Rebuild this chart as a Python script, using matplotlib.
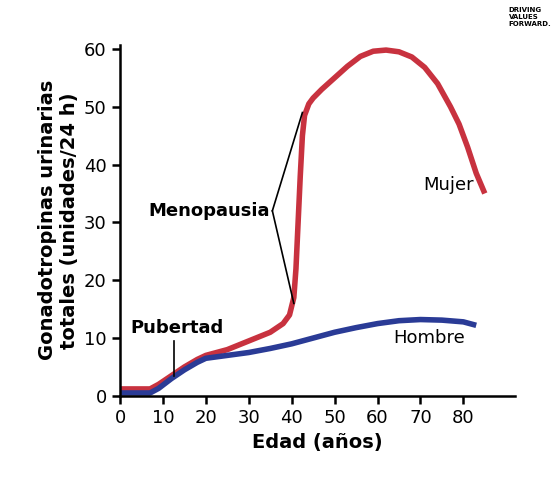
import matplotlib.pyplot as plt
import numpy as np

edad_mujer = [0, 7, 9, 12, 15, 18, 20, 25, 30, 35, 38, 39.5, 40.5, 41, 41.5, 42, 42.5, 43, 44, 45, 47, 50, 53, 56, 59, 62, 65, 68, 71, 74, 77, 79, 81, 83, 85]
mujer = [1.2, 1.2, 2, 3.5, 5, 6.3, 7, 8, 9.5, 11, 12.5, 14, 17, 22, 30, 38, 45, 48.5, 50.5, 51.5, 53, 55, 57, 58.7, 59.6, 59.8, 59.5, 58.6, 56.8, 54, 50, 47, 43, 38.5, 35]
edad_hombre = [0, 7, 9, 12, 15, 18, 20, 25, 30, 35, 40, 45, 50, 55, 60, 65, 70, 75, 80, 83]
hombre = [0.5, 0.5, 1.3, 3, 4.5, 5.8, 6.5, 7, 7.5, 8.2, 9, 10, 11, 11.8, 12.5, 13, 13.2, 13.1, 12.8, 12.2]

fig = plt.figure(figsize=(5.53, 4.93), dpi=100)
ax = fig.add_axes([0.217, 0.197, 0.714, 0.712])

ax.plot(edad_mujer, mujer, color="#c8323f", lw=4, solid_capstyle="butt", solid_joinstyle="round")
ax.plot(edad_hombre, hombre, color="#2a3b96", lw=4, solid_capstyle="butt", solid_joinstyle="round")

ax.set_xlim(0, 92)
ax.set_ylim(0, 60.7)
ax.set_xticks(range(0, 90, 10))
ax.set_yticks(range(0, 70, 10))
for s in ["top", "right"]:
    ax.spines[s].set_visible(False)
for s in ["left", "bottom"]:
    ax.spines[s].set_linewidth(1.8)
ax.tick_params(width=1.8, length=6, labelsize=13)

ax.set_xlabel("Edad (años)", fontsize=14, fontweight="bold")
ax.set_ylabel("Gonadotropinas urinarias\ntotales (unidades/24 h)", fontsize=14, fontweight="bold")

# annotations
ax.text(35, 32, "Menopausia", fontsize=13, fontweight="bold", ha="right", va="center")
ax.plot([35.5, 42.5], [32, 49], color="black", lw=1.2)
ax.plot([35.5, 40.5], [32, 16], color="black", lw=1.2)
ax.text(2.5, 11.8, "Pubertad", fontsize=13, fontweight="bold", ha="left", va="center")
ax.plot([12.5, 12.5], [9.5, 3.5], color="black", lw=1.2)
ax.text(76.5, 36.5, "Mujer", fontsize=13, ha="center", va="center")
ax.text(72, 10, "Hombre", fontsize=13, ha="center", va="center")

fig.text(0.92, 0.985, "DRIVING\nVALUES\nFORWARD.", fontsize=5, fontweight="bold", ha="left", va="top")

fig.savefig("out.png", dpi=100)
